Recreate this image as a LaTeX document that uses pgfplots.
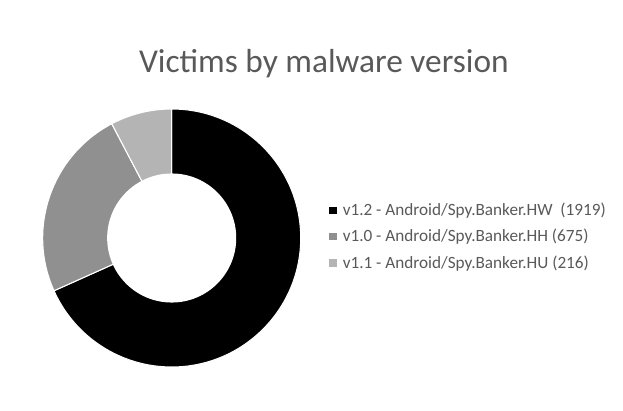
\documentclass[border=0pt]{standalone}
\usepackage{pgfplots}
\pgfplotsset{compat=1.18}
\usepackage{fontspec}
\setmainfont{Carlito}
\definecolor{txtgray}{HTML}{595959}
\definecolor{vdark}{HTML}{000000}
\definecolor{vmid}{HTML}{909090}
\definecolor{vlight}{HTML}{B4B4B4}
\begin{document}
\begin{tikzpicture}
% victims per version (v1.2, v1.0, v1.1)
\def\nA{1919}
\def\nB{675}
\def\nC{216}
\pgfmathsetmacro\total{\nA+\nB+\nC}
\pgfmathsetmacro\angA{90-360*(\nA/\total)}
\pgfmathsetmacro\angB{\angA-360*(\nB/\total)}
\pgfmathsetmacro\angC{\angB-360*(\nC/\total)}
\def\Rout{96.75pt}
\def\Rin{48.4pt}
\begin{axis}[
	scale only axis,
	width=467.25pt,
	height=307.5pt,
	xmin=0, xmax=623,
	ymin=0, ymax=410,
	hide axis,
	clip=false,
	legend style={at={(axis cs:329,173.5)}, anchor=west, draw=none, fill=none,
		font=\fontsize{12.9pt}{15pt}\selectfont\color{txtgray},
		row sep=4.8pt, inner sep=0pt,
		/tikz/every odd column/.append style={column sep=0pt}},
	legend cell align=left,
	legend image code/.code={\fill[#1] (0pt,-2.4pt) rectangle (4.8pt,2.4pt);},
]
\path (rel axis cs:0,0) rectangle (rel axis cs:1,1);
\fill[vdark, draw=white, line width=0.8pt] (axis cs:171.7,172) -- ++(90:\Rout)
	arc[start angle=90, end angle=\angA, radius=\Rout] -- cycle;
\fill[vmid, draw=white, line width=0.8pt] (axis cs:171.7,172) -- ++(\angA:\Rout)
	arc[start angle=\angA, end angle=\angB, radius=\Rout] -- cycle;
\fill[vlight, draw=white, line width=0.8pt] (axis cs:171.7,172) -- ++(\angB:\Rout)
	arc[start angle=\angB, end angle=\angC, radius=\Rout] -- cycle;
\fill[white] (axis cs:171.7,172) circle[radius=\Rin];
\node[anchor=base, text=txtgray, font=\fontsize{25pt}{30pt}\selectfont, inner sep=0pt]
	at (axis cs:323.8,337.5) {Victims by malware version};
\addlegendimage{vdark}
\addlegendimage{vmid}
\addlegendimage{vlight}
\legend{\ v1.2 - Android/Spy.Banker.HW\ \ (1919),
	\ v1.0 - Android/Spy.Banker.HH (675),
	\ v1.1 - Android/Spy.Banker.HU (216)}
\end{axis}
\end{tikzpicture}
\end{document}
